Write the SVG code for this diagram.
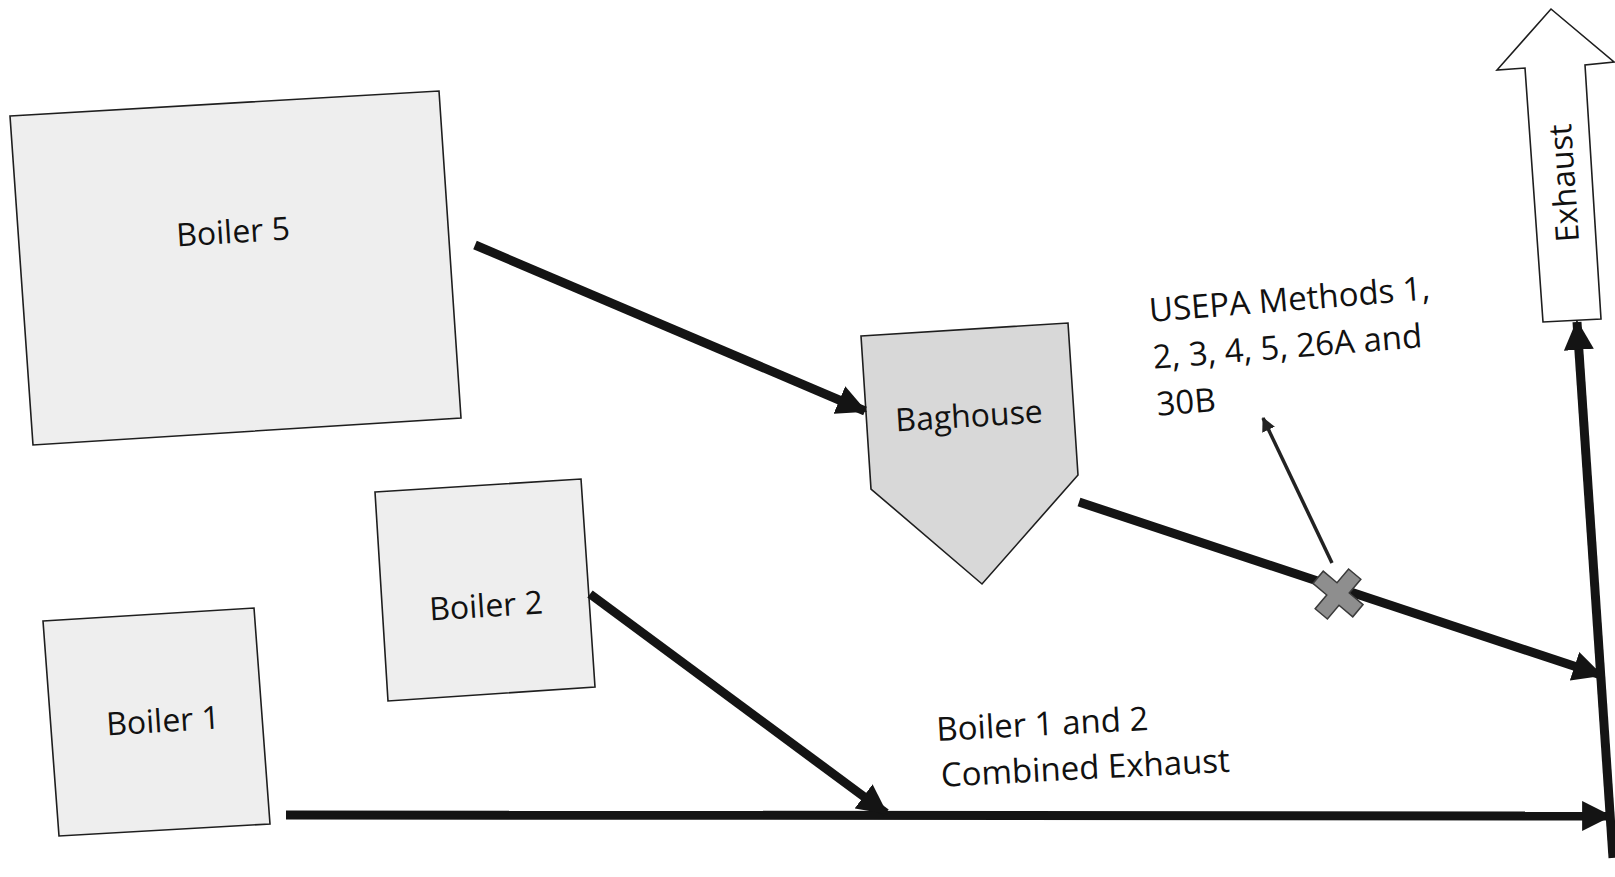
<svg xmlns="http://www.w3.org/2000/svg" width="1615" height="877" viewBox="0 0 1615 877">
  <style>
    .box { fill: #eeeeee; stroke: #1e1e1e; stroke-width: 1.6; }
    .bag { fill: #d8d8d8; stroke: #1e1e1e; stroke-width: 1.6; }
    .lbl { font-family: "Open Sans", "Liberation Sans", sans-serif; font-size: 32px; fill: #111; }
    .big { font-size: 33px; }
    .flow { stroke: #141414; stroke-width: 9; fill: none; marker-end: url(#ah); }
    .probe { stroke: #222; stroke-width: 3.5; fill: none; marker-end: url(#ahs); }
  </style>
  <defs>
    <marker id="ah" markerUnits="userSpaceOnUse" markerWidth="30" markerHeight="30" viewBox="0 0 28 28" refX="26" refY="14" orient="auto">
      <path d="M0,0 L28,14 L0,28 z" fill="#141414"/>
    </marker>
    <marker id="ahs" markerUnits="userSpaceOnUse" markerWidth="14" markerHeight="14" viewBox="0 0 14 14" refX="13" refY="7" orient="auto">
      <path d="M0,0 L14,7 L0,14 z" fill="#222"/>
    </marker>
  </defs>
  <rect width="1615" height="877" fill="#ffffff"/>

  <g id="boiler5">
    <polygon class="box" points="10,116 439,91 461,418 33,445"/>
    <text class="lbl" x="233" y="243" text-anchor="middle" transform="rotate(-3.6 233 232)">Boiler 5</text>
  </g>

  <g id="boiler2">
    <polygon class="box" points="375,492 581,479 595,687 388,701"/>
    <text class="lbl" x="486" y="617" text-anchor="middle" transform="rotate(-3.6 486 606)">Boiler 2</text>
  </g>

  <g id="boiler1">
    <polygon class="box" points="43,621 254,608 270,824 59,836"/>
    <text class="lbl" x="163" y="732" text-anchor="middle" transform="rotate(-3.6 163 721)">Boiler 1</text>
  </g>

  <g id="baghouse">
    <polygon class="bag" points="861,336 1068,323 1078,475 982,584 871,489"/>
    <text class="lbl" x="969" y="427" text-anchor="middle" transform="rotate(-3.5 969 416)">Baghouse</text>
  </g>

  <g id="exhaust">
    <polygon fill="#ffffff" stroke="#1e1e1e" stroke-width="1.6" points="1551,9 1614,62 1585,65 1601,319 1543,322 1525,68 1497,70"/>
    <text class="lbl" x="1564" y="194" text-anchor="middle" font-size="30" transform="rotate(-94 1564 183)">Exhaust</text>
  </g>

  <g id="combined-label">
    <text class="lbl big" transform="translate(937,741) rotate(-3)">
      <tspan x="0" y="0">Boiler 1 and 2</tspan>
      <tspan x="2" y="46">Combined Exhaust</tspan>
    </text>
  </g>

  <g id="usepa-label">
    <text class="lbl big" transform="translate(1150,322) rotate(-4.6)">
      <tspan x="0" y="0">USEPA Methods 1,</tspan>
      <tspan x="0" y="47">2, 3, 4, 5, 26A and</tspan>
      <tspan x="0" y="94">30B</tspan>
    </text>
  </g>

  <g id="connectors">
    <line class="flow" x1="475" y1="245" x2="865" y2="411"/>
    <line class="flow" x1="1079" y1="502" x2="1601" y2="675"/>
    <line class="flow" x1="286" y1="815" x2="1610" y2="816" stroke-width="10"/>
    <line class="flow" x1="590" y1="594" x2="886" y2="813"/>
    <line class="flow" x1="1613" y1="858" x2="1577" y2="322" stroke-width="10"/>
    <line class="probe" x1="1332" y1="563" x2="1263" y2="418"/>
  </g>

  <g id="sample-point">
    <g transform="translate(1338,594) rotate(40)">
      <path d="M-26,-8 L-8,-8 L-8,-26 L8,-26 L8,-8 L26,-8 L26,8 L8,8 L8,26 L-8,26 L-8,8 L-26,8 Z" fill="#8e8e8e" stroke="#3a3a3a" stroke-width="1.5"/>
    </g>
  </g>
</svg>
